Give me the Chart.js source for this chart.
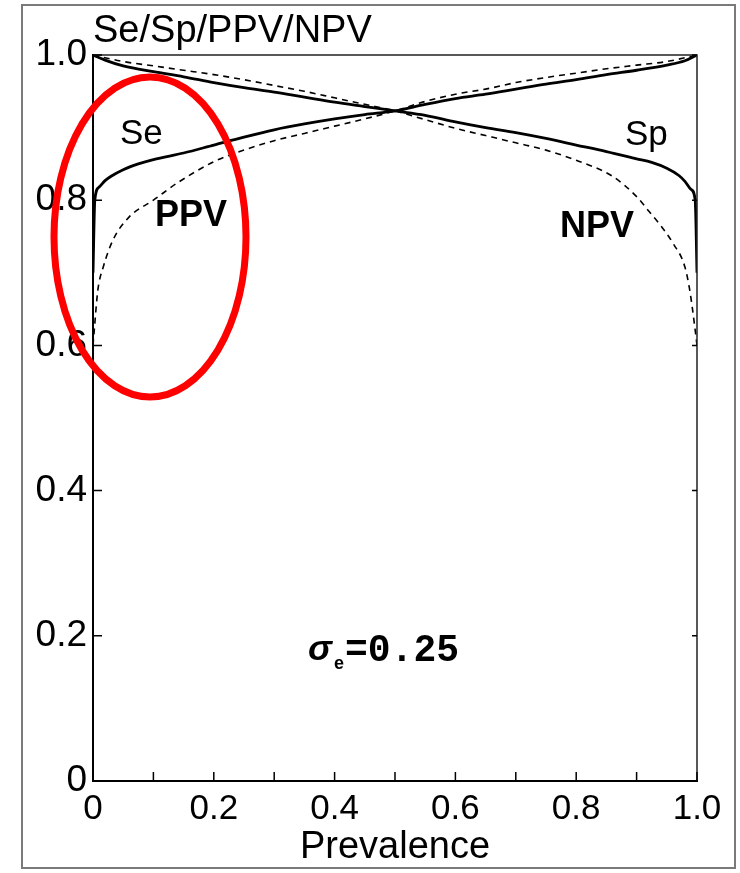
<!DOCTYPE html>
<html>
<head>
<meta charset="utf-8">
<script src="https://cdn.jsdelivr.net/npm/chart.js@4/dist/chart.umd.min.js"></script>
<style>
  body { margin: 0; background: #fff; }
  canvas { display: block; }
</style>
</head>
<body>
<canvas id="chart" width="740" height="873"></canvas>
<script>
// Se (solid, rising)
const seX = [0, 0.003, 0.01, 0.02, 0.03, 0.05, 0.075, 0.1, 0.15, 0.2, 0.25, 0.3, 0.35, 0.4, 0.45, 0.5, 0.55, 0.6, 0.65, 0.7, 0.75, 0.8, 0.85, 0.9, 0.95, 0.98, 1.0];
const seY = [0.70, 0.80, 0.818, 0.827, 0.833, 0.842, 0.850, 0.856, 0.865, 0.876, 0.887, 0.897, 0.905, 0.912, 0.918, 0.923, 0.932, 0.940, 0.946, 0.953, 0.960, 0.966, 0.973, 0.979, 0.986, 0.992, 1.0];

// Sp (solid, falling)
const spX = [0, 0.02, 0.05, 0.1, 0.15, 0.2, 0.25, 0.3, 0.35, 0.4, 0.45, 0.5, 0.55, 0.6, 0.65, 0.7, 0.75, 0.8, 0.85, 0.9, 0.925, 0.95, 0.97, 0.98, 0.99, 0.997, 1.0];
const spY = [1.0, 0.993, 0.985, 0.977, 0.970, 0.962, 0.955, 0.949, 0.942, 0.935, 0.929, 0.923, 0.917, 0.908, 0.900, 0.893, 0.885, 0.876, 0.867, 0.857, 0.852, 0.844, 0.834, 0.826, 0.815, 0.80, 0.70];

// PPV (dashed, rising)
const ppvX = [0, 0.002, 0.008, 0.017, 0.033, 0.06, 0.1, 0.14, 0.2, 0.25, 0.3, 0.35, 0.4, 0.45, 0.5, 0.55, 0.6, 0.65, 0.7, 0.75, 0.8, 0.85, 0.9, 0.95, 1.0];
const ppvY = [0.60, 0.62, 0.676, 0.708, 0.745, 0.777, 0.800, 0.824, 0.853, 0.869, 0.882, 0.892, 0.902, 0.912, 0.923, 0.936, 0.946, 0.953, 0.962, 0.969, 0.975, 0.981, 0.986, 0.991, 1.0];

// NPV (dashed, falling)
const npvX = [0, 0.05, 0.1, 0.15, 0.2, 0.25, 0.3, 0.35, 0.4, 0.45, 0.5, 0.55, 0.6, 0.65, 0.7, 0.75, 0.8, 0.86, 0.9, 0.92, 0.94, 0.96, 0.98, 0.988, 0.997, 1.0];
const npvY = [1.0, 0.991, 0.985, 0.979, 0.973, 0.966, 0.958, 0.950, 0.941, 0.932, 0.923, 0.911, 0.899, 0.889, 0.879, 0.869, 0.855, 0.833, 0.805, 0.785, 0.765, 0.741, 0.708, 0.676, 0.621, 0.60];

const xMinorTicks = [0, 0.1, 0.2, 0.3, 0.4, 0.5, 0.6, 0.7, 0.8, 0.9, 1.0];
const yMinorTicks = [0, 0.2, 0.4, 0.6, 0.8, 1.0];

const FONT = "'Liberation Sans', Arial, Helvetica, sans-serif";

function toXY(xs, ys) {
    return xs.map((x, i) => ({ x: x, y: ys[i] }));
}

function curve(label, xs, ys, dashed) {
    return {
        label: label,
        data: toXY(xs, ys),
        showLine: true,
        borderColor: '#000',
        borderWidth: dashed ? 1.6 : 2.8,
        borderDash: dashed ? [6, 5] : [],
        pointRadius: 0,
        cubicInterpolationMode: 'monotone',
        fill: false
    };
}

// frame, tick marks, labels and the red ring
const decorPlugin = {
    id: 'decor',
    afterDraw(chart) {
        const ctx = chart.ctx;
        const a = chart.chartArea;
        const xs = chart.scales.x, ys = chart.scales.y;

        ctx.save();
        // outer grey frame
        ctx.strokeStyle = '#7a7a7a';
        ctx.lineWidth = 2;
        ctx.strokeRect(22, 5, 713, 863);

        // top and right of the plot box
        ctx.strokeStyle = '#222';
        ctx.lineWidth = 1.5;
        ctx.beginPath();
        ctx.moveTo(a.left, a.top);
        ctx.lineTo(a.right, a.top);
        ctx.lineTo(a.right, a.bottom);
        ctx.stroke();

        // inward tick marks
        ctx.strokeStyle = '#000';
        ctx.lineWidth = 1.5;
        ctx.beginPath();
        xMinorTicks.forEach(v => {
            const px = xs.getPixelForValue(v);
            ctx.moveTo(px, a.bottom);
            ctx.lineTo(px, a.bottom - 9);
        });
        yMinorTicks.forEach(v => {
            const py = ys.getPixelForValue(v);
            ctx.moveTo(a.left, py);
            ctx.lineTo(a.left + 9, py);
            ctx.moveTo(a.right, py);
            ctx.lineTo(a.right - 5, py);
        });
        ctx.stroke();

        // texts
        ctx.fillStyle = '#000';
        ctx.textBaseline = 'alphabetic';
        ctx.textAlign = 'left';
        ctx.font = '38px ' + FONT;
        ctx.fillText('Se/Sp/PPV/NPV', 93, 42);
        ctx.textAlign = 'center';
        ctx.font = '38px ' + FONT;
        ctx.fillText('Prevalence', 395, 858);

        ctx.textAlign = 'left';
        ctx.font = '35px ' + FONT;
        ctx.fillText('Se', 120, 144);
        ctx.fillText('Sp', 625, 145);
        ctx.font = 'bold 36px ' + FONT;
        ctx.fillText('PPV', 155, 226);
        ctx.fillText('NPV', 560, 237);

        // sigma label
        ctx.font = 'italic bold 36px ' + FONT;
        ctx.fillText('\u03c3', 308, 660);
        ctx.font = 'bold 18px ' + FONT;
        ctx.fillText('e', 334, 669);
        ctx.font = "bold 38px 'Liberation Mono', 'DejaVu Sans Mono', monospace";
        ctx.fillText('=0.25', 345, 661);

        // red ring
        ctx.strokeStyle = '#ff0000';
        ctx.lineWidth = 7;
        ctx.beginPath();
        ctx.ellipse(150, 237, 96, 160, 0, 0, Math.PI * 2);
        ctx.stroke();
        ctx.restore();
    }
};

const ctx = document.getElementById('chart').getContext('2d');

new Chart(ctx, {
    type: 'scatter',
    data: {
        datasets: [
            curve('Se', seX, seY, false),
            curve('Sp', spX, spY, false),
            curve('PPV', ppvX, ppvY, true),
            curve('NPV', npvX, npvY, true)
        ]
    },
    options: {
        responsive: false,
        animation: false,
        layout: { padding: { left: 23, top: 55, right: 43, bottom: 32 } },
        plugins: {
            legend: { display: false },
            tooltip: { enabled: false }
        },
        scales: {
            x: {
                type: 'linear',
                min: 0,
                max: 1,
                afterFit: s => { s.height = 60; },
                grid: { display: false, drawTicks: false },
                border: { color: '#000', width: 2 },
                ticks: {
                    stepSize: 0.2,
                    padding: 7,
                    color: '#000',
                    font: { family: FONT, size: 35 },
                    maxRotation: 0,
                    callback: v => v === 0 ? '0' : v.toFixed(1)
                }
            },
            y: {
                min: 0,
                max: 1,
                afterFit: s => { s.width = 70; },
                grid: { display: false, drawTicks: false },
                border: { color: '#000', width: 2 },
                ticks: {
                    stepSize: 0.2,
                    padding: 6,
                    color: '#000',
                    font: { family: FONT, size: 37 },
                    callback: v => v === 0 ? '0' : v.toFixed(1)
                }
            }
        }
    },
    plugins: [decorPlugin]
});
</script>
</body>
</html>
